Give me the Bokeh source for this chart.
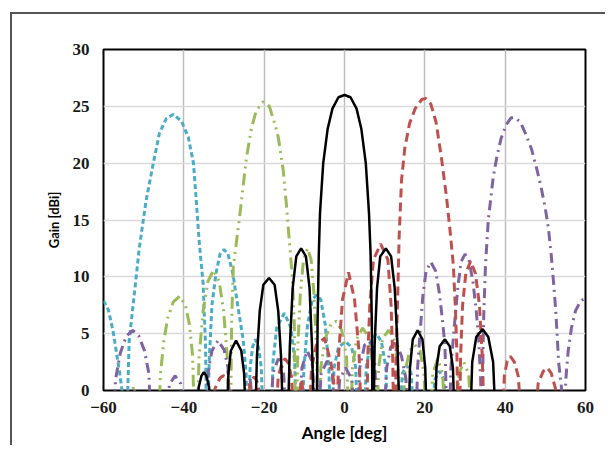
from bokeh.plotting import figure
from bokeh.embed import file_html
from bokeh.resources import INLINE
from bokeh.models import FixedTicker, InlineStyleSheet

# ---------------- data ----------------
x_ticks = [-60, -40, -20, 0, 20, 40, 60]
y_ticks = [0, 5, 10, 15, 20, 25, 30]

# Beam steered to 0 deg (black, solid)
black_x = [-37, -36.3, -35.6, -35, -34.4, -33.7, -33, -31.2, -29.4, -28.9, -28.3, -27, -25.7, -25.0, -24.4,
           -23.3, -22.3, -21.8, -21.1, -20.2, -18.8, -17.4, -16.5, -15.8, -15.2,
           -14.7, -14.2, -13.6, -12.9, -12.0, -10.8, -9.6, -8.7, -8.1, -7.5,
           -6.9, -6.7, -6.4, -6.1, -5.3, -4.2, -3.0, -1.5, 0, 1.5, 3.0, 4.2, 5.3, 6.1, 6.5, 6.8, 7.0,
           7.2, 7.5, 8.1, 8.9, 10.3, 11.6, 12.5, 13.2, 13.8, 14.9,
           15.9, 16.3, 17.0, 18.2, 19.4, 20.1, 20.6, 21.5,
           22.4, 22.9, 23.7, 25.0, 26.2, 27.0, 27.5, 29.3,
           31.2, 31.8, 32.8, 34.4, 35.8, 37.0, 37.8, 40, 42.5, 44.5, 46.5]
black_y = [-4, 0.3, 1.3, 1.6, 1.3, 0.3, -4, -1, -4, 1.5, 3.5, 4.4, 3.5, 1.5, -4,
           -2, -4, 3, 7, 9.3, 9.9, 9.3, 7, 3, -4,
           -2, -4, 4, 9, 11.8, 12.5, 11.8, 9, 4, -4,
           -4, 6, 12, 15.6, 20, 23, 24.8, 25.8, 26, 25.8, 24.8, 23, 20, 15.6, 12, 6, -4,
           -4, 4, 9, 11.8, 12.5, 11.8, 9, 4, -4, -2,
           -4, 2, 4.5, 5.3, 4.5, 2, -4, -2,
           -4, 2, 3.9, 4.5, 3.9, 2, -4, -1,
           -4, 2.5, 4.7, 5.4, 4.7, 2.5, -4, -2, -4, -0.3, -4]

# Beam steered to +20 deg (red, dashed)
red_x = [-34, -32.2, -31, -30.2, -29, -28, -26.3, -24.5, -23.5, -22.5, -21.5, -20.5, -19, -17.3,
         -16.5, -15.6, -14.8, -14, -13.2, -12.5, -10.7, -9, -8.2, -7, -5, -3.4, -2.6, -2,
         -1.4, -0.5, 1, 2.5, 3.6, 4.3, 5.5, 5.8, 6.3, 7.2, 9, 10.8, 11.6, 12.0, 12.3,
         12.6, 12.9, 13.3, 13.6, 14.2, 15.0, 16.2, 17.6, 19.2, 20.3, 21.5, 22.8, 24.2, 25.4,
         26.3, 27.1, 27.6, 28.0, 28.3,
         28.6, 28.9, 29.4, 30.2, 31.4, 32.6, 33.6, 34.3, 34.8, 37, 39.2,
         39.8, 40.5, 41.3, 42.3, 43.3, 44.2, 45.7, 47.3, 48.2, 49.5, 50.5, 51.5, 52.5, 53, 56]
red_y = [-4, 0.2, 1.1, 1.3, 1.1, -4, -0.5, -4, 0.6, 1.2, 0.6, -4, -0.3, -4,
         1.2, 2.4, 2.8, 2.4, 1.2, -4, 1, -4, 2, 4, 4.6, 2.5, 0.5, -4,
         3.5, 8, 10.4, 8, 3.5, -4, -4, 3, 7.5, 11.5, 12.9, 11.5, 7.5, 3, -4,
         -4, 4, 9, 13.5, 18.5, 21.3, 23.5, 24.8, 25.6, 25.7, 25.2, 23.6, 20.3, 17,
         14, 11, 7.3, 3, -4,
         -4, 3, 7.5, 10.3, 11.4, 10.3, 7.5, 3, -4, -1, -4,
         1.3, 2.6, 3, 2.5, 1.2, -4, -1, -4, 0.6, 1.7, 2, 1.5, 0.2, -4, -0.5]

# Beam steered to +40 deg (purple, dash-dot)
purple_x = [-59.5, -57.7, -57, -55.8, -54.3, -52.7, -51.2, -49.8, -48.7, -48.1, -46.5,
            -44.7, -43.6, -42.2, -40.8, -39.8, -37.2,
            -34.8, -34, -33, -31.5, -30, -29, -28.3, -26.7,
            -25, -23.5, -22, -20.3, -18.7, -17.8, -16.5, -15.2, -14.3, -12.9,
            -11.5, -10.6, -9.3, -8, -7, -6.8, -5.8, -4.3, -3, -2.2,
            -1.2, 0.3, 1.8, 2.8, 3.0, 3.8, 5, 6.3, 7.5, 8.4, 9, 9.6, 10.5, 11.5, 12.8, 14.2, 15.3, 15.8, 16.8,
            17.7, 18.2, 18.8, 19.5, 20.3, 21.5, 22.7, 23.6, 24.3, 25, 25.6,
            26, 26.5, 27.3, 28.2, 29, 30, 31, 32, 32.8, 33.4, 33.9, 34.2,
            34.3, 34.5, 34.7, 35.1, 35.8, 37, 38, 39, 40.3, 41.5, 42.5, 43.8, 45.2, 46.6, 48, 49,
            50, 50.8, 51.5, 52, 52.6, 53.0, 53.3, 54.0, 54.3,
            54.6, 55.1, 55.7, 56.5, 57.5, 58.8, 60]
purple_y = [-4, -4, 1, 3.3, 4.8, 5.3, 4.8, 3.5, 1.5, -4, -1,
            -4, 0.5, 1.3, 0.6, -4, -1,
            -4, 1.5, 3.5, 4.4, 3.6, 2, -4, -1,
            -4, 1, -4, -1, -4, 1.5, 2.8, 1.8, -4, -1,
            -4, 2, 3.5, 2.5, -4, -4, 1.5, 2.6, 1.5, -4,
            1, 2, 1, -4, -4, 2, 4, 4.3, 2.5, -4, -1, -4, 2, 3.8, 4.3, 3, 1, -4, -1,
            -4, 2, 5, 8.3, 10.5, 11.3, 10.5, 8.6, 6.5, 4, -4,
            -4, 2, 5.5, 9, 11.3, 12, 11.5, 9.5, 7, 4.5, 1, -4,
            -4, 4, 7, 11, 15, 18.7, 20.7, 22.2, 23.4, 24, 24, 23.6, 22.5, 21.2, 19.3, 17.8,
            16, 14.2, 11.8, 9.7, 7, 4.5, 2.5, 0.3, -4,
            -4, 1, 3.5, 5.5, 7, 7.9, 8.1]

# Beam steered to -20 deg (green, dash-dot-dot)
green_x = [-55, -52.5, -50, -46.5, -45.8, -45, -44, -42.6, -41, -39.6, -38.6, -37.8, -37.3,
           -36.8, -36.2, -35.2, -34, -32.6, -31.2, -30.1, -29.2, -28.6,
           -28.4, -28.1, -27.7, -27, -26.2, -25.4, -24.4, -23.2, -22, -20.3, -18.7, -17.3,
           -16.5, -15.3, -14.5, -13.7, -13.0, -12.5, -12.2,
           -12.0, -11.6, -11.0, -10.2, -9.2, -8.3, -7.6, -7.0, -6.6,
           -6.4, -5.9, -4.8, -3.3, -2.0, -0.7, 0.5, 1.2,
           1.4, 2.0, 3.0, 4.5, 5.8, 7.0, 7.7,
           7.9, 8.5, 9.5, 11.0, 12.4, 13.3, 13.9,
           14.3, 15.0, 16.2, 17.5, 18.8, 19.8, 20.4,
           21.0, 22.0, 23.2, 24.4, 25.3, 26.4,
           27.5, 28.5, 29.7, 30.9, 31.8, 34]
green_y = [-4, 0.4, -4, -4, 1.5, 4.3, 6.4, 7.8, 8.3, 7.5, 5.8, 3, -4,
           -4, 3, 7, 9.6, 10.6, 9.6, 7, 3, -4,
           -4, 6, 10.8, 12.8, 15, 17.5, 20.5, 23, 24.6, 25.4, 25, 23.4,
           22.3, 19.5, 16.5, 13, 10, 6, -4,
           -4, 4, 8.5, 11.5, 12.5, 11.5, 8.5, 4, -4,
           -4, 2, 4.6, 5.9, 6.1, 5.3, 3, -4,
           -4, 2, 4.5, 5.5, 4.8, 2.5, -4,
           -4, 2, 4.6, 5.3, 4.6, 2, -4,
           -4, 1.5, 3.5, 4, 3.5, 1.5, -4,
           -4, 1.5, 2.8, 1.5, -4, -1,
           -4, 1.5, 2.5, 1.5, -4, -1]

# Beam steered to -42 deg (blue, short dash)
blue_x = [-60, -58.8, -57.6, -56.8, -56, -55, -54.6,
          -54.3, -53.6, -52.6, -51.1, -49.4, -47.6, -46.1, -44.4, -42.6, -40.6, -38.9, -37.6,
          -36.9, -36.2, -35.2, -34.6, -34.3,
          -34.1, -33.7, -33, -32, -31, -30, -29, -27.8, -26.5, -25.2, -24.5, -24.2,
          -24.0, -23.5, -22.9, -22.2, -21.4, -20.7, -20.2, -19.2,
          -18.3, -17.8, -16.9, -15, -13.3, -12.4, -11.9, -11.2,
          -10.6, -10.1, -9.2, -8, -7, -5.9, -4.8, -3.9, -3.4,
          -3.2, -2.6, -1.5, 0.2, 1.8, 2.8, 3.3, 4.0,
          4.8, 5.4, 6.5, 7.9, 9.2, 10.3, 10.8, 12.2,
          13.5, 14.4, 15.5, 16.6, 17.5, 19.5,
          21.5, 22.5, 23.6, 24.7, 25.7, 28]
blue_y = [7.9, 7.1, 5.2, 3.4, 1.6, -1, -4,
          -4, 4.4, 7.6, 12.5, 16.7, 20, 22.6, 23.9, 24.3, 23.7, 22.3, 20,
          16.7, 13.2, 9.4, 4, -4,
          -4, 2.5, 7.5, 10.3, 12, 12.4, 12, 10.3, 7.3, 4.4, 1.5, -4,
          -4, 2, 3.8, 4.5, 3.8, 2, -4, -1,
          -4, 2.5, 5.5, 6.8, 5.5, 2.5, -4, -1,
          -4, 2, 5.8, 8, 8.4, 8, 5.8, 2, -4,
          -4, 2, 3.8, 4.3, 3.8, 2, -4, -1,
          -4, 2, 4.3, 5, 4.3, 2, -4, -1,
          -4, 1.5, 2.2, 1.5, -4, -1,
          -4, 1, 1.7, 1, -4, -2]

# ---------------- figure ----------------
p = figure(width=605, height=445, x_range=(-60, 60), y_range=(0, 30),
           output_backend="svg", toolbar_location=None,
           min_border_left=103, min_border_right=20, min_border_top=49, min_border_bottom=55)

p.background_fill_color = "white"
p.border_fill_color = "white"
p.outline_line_color = "black"
p.outline_line_width = 2

# outer chart-area border: only its left and top edges are visible in the picture
p.stylesheets = [InlineStyleSheet(css=(
    ":host { position: relative; }"
    ":host::after { content: ''; position: absolute; left: 10px; top: 12px; right: 0px; bottom: 0px;"
    " border-left: 2px solid #555555; border-top: 2px solid #555555;"
    " pointer-events: none; z-index: 10; }"
))]

p.xaxis.ticker = FixedTicker(ticks=x_ticks)
p.yaxis.ticker = FixedTicker(ticks=y_ticks)
p.xgrid.ticker = FixedTicker(ticks=x_ticks)
p.ygrid.ticker = FixedTicker(ticks=y_ticks)
p.xgrid.grid_line_color = "#bdbdbd"
p.xgrid.grid_line_width = 1.5
p.ygrid.grid_line_color = "#dadada"
p.ygrid.grid_line_width = 1.5

for ax in (p.xaxis, p.yaxis):
    ax.axis_line_color = None
    ax.major_tick_line_color = None
    ax.minor_tick_line_color = None
    ax.major_tick_out = 0
    ax.major_tick_in = 0
    ax.major_label_text_font_style = "bold"
    ax.major_label_text_color = "#1a1a1a"
    ax.axis_label_text_font_style = "bold"
    ax.axis_label_text_color = "black"

p.xaxis.major_label_text_font = "Liberation Serif"
p.xaxis.major_label_text_font_size = "17px"
p.xaxis.major_label_standoff = 11
p.yaxis.major_label_text_font = "Liberation Serif"
p.yaxis.major_label_text_font_size = "17px"
p.yaxis.major_label_standoff = 14

p.xaxis.axis_label = "Angle [deg]"
p.xaxis.axis_label_text_font = "Lato"
p.xaxis.axis_label_text_font_size = "17px"
p.xaxis.axis_label_standoff = 6
p.yaxis.axis_label = "Gain [dBi]"
p.yaxis.axis_label_text_font = "Lato"
p.yaxis.axis_label_text_font_size = "13px"
p.yaxis.axis_label_standoff = 8

p.line(blue_x, blue_y, line_color="#4bacc6", line_width=3, line_dash="5 3")
p.line(green_x, green_y, line_color="#9bbb59", line_width=3, line_dash="12 5 2 5 2 5")
p.line(purple_x, purple_y, line_color="#8064a2", line_width=3, line_dash="10 5 2 5")
p.line(red_x, red_y, line_color="#c0504d", line_width=3, line_dash="9 5")
p.line(black_x, black_y, line_color="black", line_width=2.5)

open("out.html", "w").write(file_html(p, INLINE))
